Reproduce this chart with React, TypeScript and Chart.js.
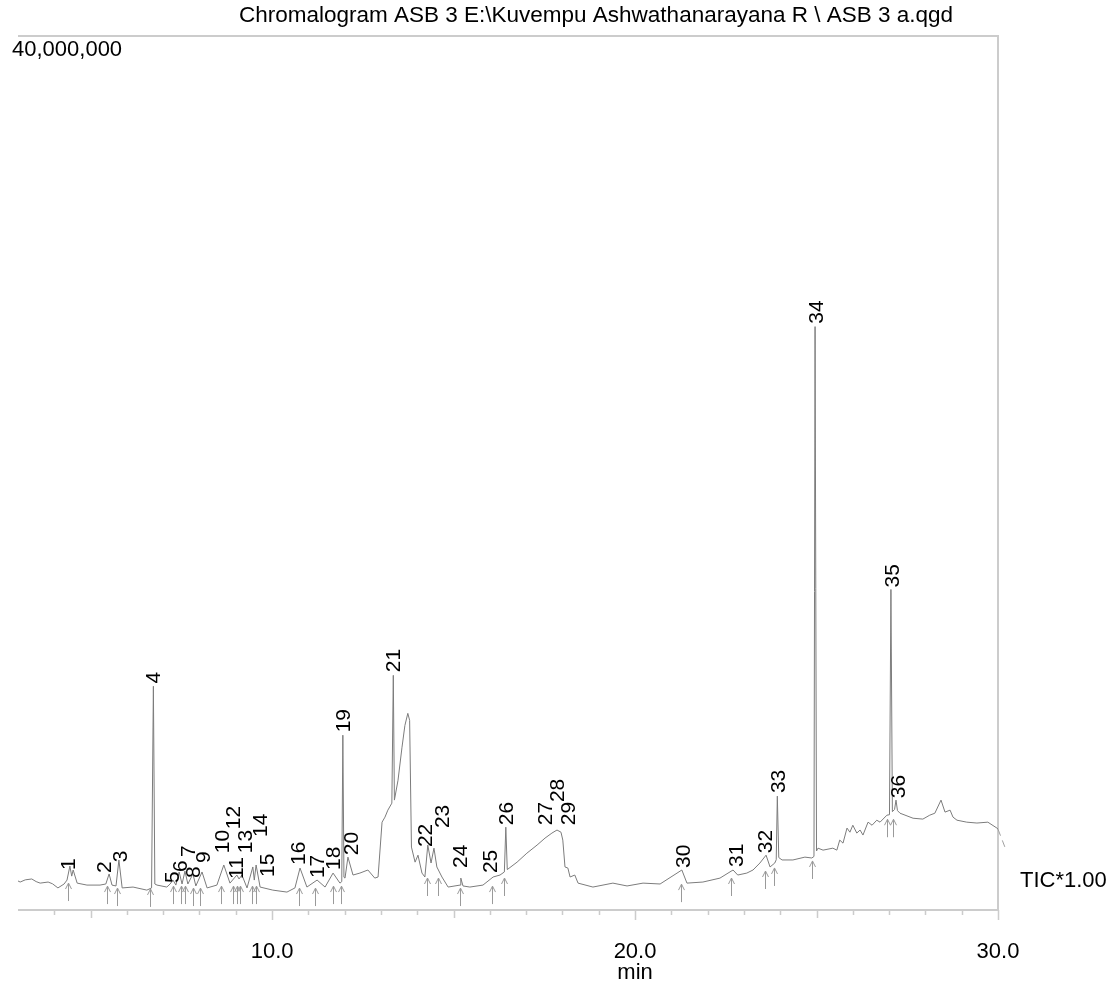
import React, { useEffect, useRef } from "react";
import { Chart, registerables } from "chart.js";

Chart.register(...registerables);

const TITLE = "Chromalogram ASB 3 E:\\Kuvempu Ashwathanarayana R \\ ASB 3 a.qgd";
const X_MIN = 3.0;
const X_MAX = 30.0;
const Y_MAX_MILLIONS = 40;
const X_AXIS_TITLE = "min";
const TRACE_NAME = "TIC*1.00";

const xTickLabels = [10, 20, 30];
const xTicks = [4, 5, 6, 7, 8, 9, 10, 11, 12, 13, 14, 15, 16, 17, 18, 19, 20, 21, 22, 23, 24, 25, 26, 27, 28, 29, 30];

// Retention time (min) and TIC intensity (x 1,000,000 counts)
const retentionTimes = [
  3.0, 3.06, 3.2, 3.38, 3.5, 3.61, 3.83, 3.95, 4.1, 4.27, 4.35, 4.43, 4.48, 4.52, 4.63, 4.9,
  5.26, 5.42, 5.51, 5.59, 5.7, 5.78, 5.87, 6.17, 6.55, 6.68, 6.73, 6.77, 6.83, 7.1, 7.19, 7.27,
  7.35, 7.44, 7.52, 7.6, 7.68, 7.82, 7.9, 8.07, 8.21, 8.48, 8.67, 8.84, 9.03, 9.09, 9.17, 9.31,
  9.47, 9.51, 9.56, 9.67, 10.02, 10.41, 10.63, 10.77, 10.96, 11.24, 11.46, 11.68, 11.87, 11.92,
  11.95, 11.98, 12.01, 12.09, 12.23, 12.42, 12.64, 12.83, 12.92, 13.03, 13.11, 13.19, 13.3, 13.34,
  13.37, 13.47, 13.58, 13.66, 13.74, 13.79, 13.84, 13.94, 14.02, 14.13, 14.21, 14.29, 14.38, 14.46,
  14.54, 14.68, 14.85, 15.18, 15.2, 15.26, 15.45, 15.81, 16.09, 16.28, 16.4, 16.44, 16.48, 16.75,
  17.02, 17.3, 17.52, 17.71, 17.85, 17.96, 18.01, 18.07, 18.15, 18.21, 18.34, 18.43, 18.84, 19.39,
  19.78, 20.22, 20.69, 21.29, 21.43, 21.87, 22.34, 22.7, 22.83, 23.08, 23.25, 23.44, 23.61, 23.72,
  23.85, 23.89, 23.92, 23.96, 24.05, 24.35, 24.68, 24.87, 24.93, 24.96, 25.0, 25.04, 25.18, 25.45,
  25.56, 25.64, 25.73, 25.84, 25.92, 26.0, 26.11, 26.2, 26.28, 26.42, 26.53, 26.66, 26.75, 26.94,
  27.01, 27.05, 27.09, 27.15, 27.19, 27.23, 27.3, 27.66, 27.93, 28.12, 28.26, 28.43, 28.54, 28.68,
  28.76, 28.87, 29.14, 29.42, 29.72, 29.97, 30.0,
];
const intensityMillions = [
  1.33, 1.28, 1.38, 1.42, 1.3, 1.23, 1.28, 1.2, 1.01, 1.19, 1.37, 2.01, 1.55, 1.83, 1.23, 1.14,
  1.14, 1.19, 1.65, 1.14, 1.1, 2.29, 1.01, 1.05, 0.91, 1.01, 10.24, 1.19, 1.14, 1.05, 1.19, 1.37,
  1.14, 1.74, 1.19, 1.78, 1.19, 1.65, 1.1, 1.74, 1.01, 1.14, 2.06, 1.23, 1.6, 1.42, 1.6, 1.01,
  1.97, 1.37, 2.06, 1.05, 0.91, 0.82, 1.01, 1.92, 1.05, 1.37, 1.05, 1.69, 1.23, 1.3,
  8.0, 1.5, 1.46, 2.42, 1.6, 1.69, 1.83, 1.46, 1.51, 4.02, 4.25, 4.57, 4.89, 10.74,
  5.03, 5.94, 7.45, 8.45, 9.0, 8.68, 2.88, 2.19, 2.51, 1.69, 1.51, 2.97, 2.15, 2.83,
  1.97, 1.51, 1.05, 1.14, 1.46, 1.1, 1.05, 1.14, 1.51, 1.6, 1.74, 3.79, 1.85, 2.19,
  2.6, 2.97, 3.29, 3.52, 3.66, 3.56, 3.2, 1.97, 1.92, 1.51, 1.6, 1.23, 1.05, 1.23,
  1.1, 1.23, 1.19, 1.83, 1.23, 1.28, 1.46, 1.83, 1.6, 1.69, 1.83, 2.15, 2.51, 1.97,
  2.15, 2.3, 5.21, 2.4, 2.29, 2.29, 2.42, 2.38, 2.45, 26.7, 2.7, 2.83, 2.74, 2.83,
  2.74, 3.2, 3.06, 3.75, 3.56, 3.88, 3.52, 3.66, 3.43, 4.02, 3.88, 4.11, 4.02, 4.34,
  4.36, 14.67, 4.5, 4.6, 5.03, 4.55, 4.43, 4.2, 4.16, 4.34, 4.43, 5.03, 4.48, 4.57,
  4.25, 4.11, 4.02, 3.98, 4.02, 3.75, 3.7,
];
// continuation of the trace past the axis end (dashed)
const tailTimes = [30.0, 30.19, 30.38];
const tailIntensity = [3.7, 2.88, 2.15];

// Peak numbers and where their labels sit
const peakNumbers = [1, 2, 3, 4, 5, 6, 7, 8, 9, 10, 11, 12, 13, 14, 15, 16, 17, 18, 19, 20, 21, 22, 23, 24, 25, 26, 27, 28, 29, 30, 31, 32, 33, 34, 35, 36];
const peakLabelTimes = [
  4.38, 5.37, 5.81, 6.72, 7.24, 7.46, 7.68, 7.82, 8.1, 8.62, 9.01, 8.92, 9.25, 9.67, 9.86, 10.71, 11.24, 11.68,
  11.95, 12.17, 13.33, 14.21, 14.68, 15.18, 16.0, 16.44, 17.52, 17.85, 18.15, 21.32, 22.78, 23.58, 23.94, 24.98, 27.08, 27.24,
];
const peakLabelLevels = [
  1.83, 1.69, 2.19, 10.37, 1.23, 1.74, 2.42, 1.46, 2.15, 2.6, 1.42, 3.7, 2.6, 3.34, 1.51, 2.06, 1.46, 1.83,
  8.13, 2.51, 10.88, 2.88, 3.75, 1.92, 1.69, 3.88, 3.88, 4.94, 3.88, 1.92, 1.97, 2.6, 5.35, 26.83, 14.76, 5.12,
];

// Integration start/end markers (time, level at tip)
const markerTimes = [
  4.38, 5.45, 5.73, 6.64, 7.27, 7.49, 7.6, 7.82, 8.01, 8.59, 8.92, 9.03, 9.12, 9.45, 9.56, 10.74, 11.18, 11.68,
  11.9, 14.27, 14.57, 15.18, 16.06, 16.39, 21.26, 22.64, 23.58, 23.83, 24.87, 26.94, 27.1,
];
const markerLevels = [
  1.28, 1.14, 1.05, 1.01, 1.14, 1.14, 1.14, 1.05, 1.05, 1.14, 1.14, 1.14, 1.14, 1.14, 1.14, 1.05, 1.05, 1.14,
  1.14, 1.51, 1.51, 1.05, 1.14, 1.51, 1.23, 1.51, 1.83, 1.97, 2.29, 4.2, 4.2,
];

const FONT = '"Liberation Sans", Arial, Helvetica, sans-serif';
const TEXT_COLOR = "#000000";
const FRAME_COLOR = "#cccccc";

const decorPlugin = {
  id: "decor",
  beforeDatasetsDraw(chart: any) {
    const { ctx, chartArea: a, scales } = chart;
    const xs = scales.x;
    ctx.save();
    ctx.strokeStyle = FRAME_COLOR;
    ctx.lineWidth = 2;
    ctx.beginPath();
    ctx.moveTo(a.left, a.top);
    ctx.lineTo(a.right, a.top);
    ctx.lineTo(a.right, a.bottom);
    ctx.moveTo(a.left, a.bottom);
    ctx.lineTo(a.right, a.bottom);
    ctx.stroke();
    ctx.lineWidth = 1.5;
    ctx.beginPath();
    for (const t of xTicks) {
      const px = Math.round(xs.getPixelForValue(t)) + 0.5;
      const len = t % 10 === 0 ? 10 : t % 5 === 0 ? 8 : 5;
      ctx.moveTo(px, a.bottom);
      ctx.lineTo(px, a.bottom + len);
    }
    ctx.stroke();

    // integration markers
    const ys = scales.y;
    ctx.strokeStyle = "#9a9a9a";
    ctx.lineWidth = 1;
    ctx.beginPath();
    markerTimes.forEach((t, i) => {
      const px = Math.round(xs.getPixelForValue(t)) + 0.5;
      const py = ys.getPixelForValue(markerLevels[i]) + 1;
      ctx.moveTo(px, py);
      ctx.lineTo(px, py + 18);
      ctx.moveTo(px - 3, py + 6);
      ctx.lineTo(px, py);
      ctx.lineTo(px + 3, py + 6);
    });
    ctx.stroke();
    ctx.restore();
  },
  afterDraw(chart: any) {
    const { ctx, chartArea: a, scales } = chart;
    const xs = scales.x;
    const ys = scales.y;
    ctx.save();
    ctx.fillStyle = TEXT_COLOR;
    ctx.textBaseline = "middle";

    ctx.font = `22.5px ${FONT}`;
    ctx.textAlign = "center";
    ctx.fillText(TITLE, 596, 16);

    ctx.font = `22px ${FONT}`;
    ctx.textAlign = "left";
    ctx.fillText((Y_MAX_MILLIONS * 1000000).toLocaleString("en-US"), 12, 50);

    ctx.textAlign = "center";
    for (const t of xTickLabels) {
      ctx.fillText(t.toFixed(1), xs.getPixelForValue(t), 952);
    }
    ctx.fillText(X_AXIS_TITLE, xs.getPixelForValue(20), 973);

    ctx.textAlign = "left";
    ctx.fillText(TRACE_NAME, a.right + 22, 881);

    ctx.font = `21px ${FONT}`;
    peakNumbers.forEach((n, i) => {
      const px = xs.getPixelForValue(peakLabelTimes[i]);
      const py = ys.getPixelForValue(peakLabelLevels[i]);
      ctx.save();
      ctx.translate(px, py);
      ctx.rotate(-Math.PI / 2);
      ctx.textAlign = "left";
      ctx.textBaseline = "middle";
      ctx.fillText(String(n), 0, 1);
      ctx.restore();
    });
    ctx.restore();
  },
};

export default function App() {
  const ref = useRef<HTMLCanvasElement>(null);
  useEffect(() => {
    document.body.style.margin = "0";
    const canvas = ref.current;
    if (!canvas) return;
    const chart = new Chart(canvas, {
      type: "line",
      data: {
        datasets: [
          {
            label: TRACE_NAME,
            data: retentionTimes.map((t, i) => ({ x: t, y: intensityMillions[i] })),
            borderColor: "#7c7c7c",
            borderWidth: 1,
            pointRadius: 0,
            tension: 0,
            fill: false,
          },
          {
            label: "tail",
            data: tailTimes.map((t, i) => ({ x: t, y: tailIntensity[i] })),
            borderColor: "#a0a0a0",
            borderWidth: 1,
            borderDash: [7, 5],
            pointRadius: 0,
            tension: 0,
            fill: false,
            clip: false as any,
          },
        ],
      },
      options: {
        responsive: false,
        animation: false,
        devicePixelRatio: 1,
        events: [],
        layout: { padding: { left: 18, right: 110, top: 36, bottom: 74 } },
        plugins: { legend: { display: false }, tooltip: { enabled: false }, title: { display: false } },
        scales: {
          x: { type: "linear", min: X_MIN, max: X_MAX, display: false },
          y: { type: "linear", min: 0, max: Y_MAX_MILLIONS, display: false },
        },
      },
      plugins: [decorPlugin],
    });
    return () => chart.destroy();
  }, []);
  return (
    <div style={{ width: 1108, height: 984, background: "#ffffff" }}>
      <canvas ref={ref} width={1108} height={984} style={{ display: "block" }} />
    </div>
  );
}
